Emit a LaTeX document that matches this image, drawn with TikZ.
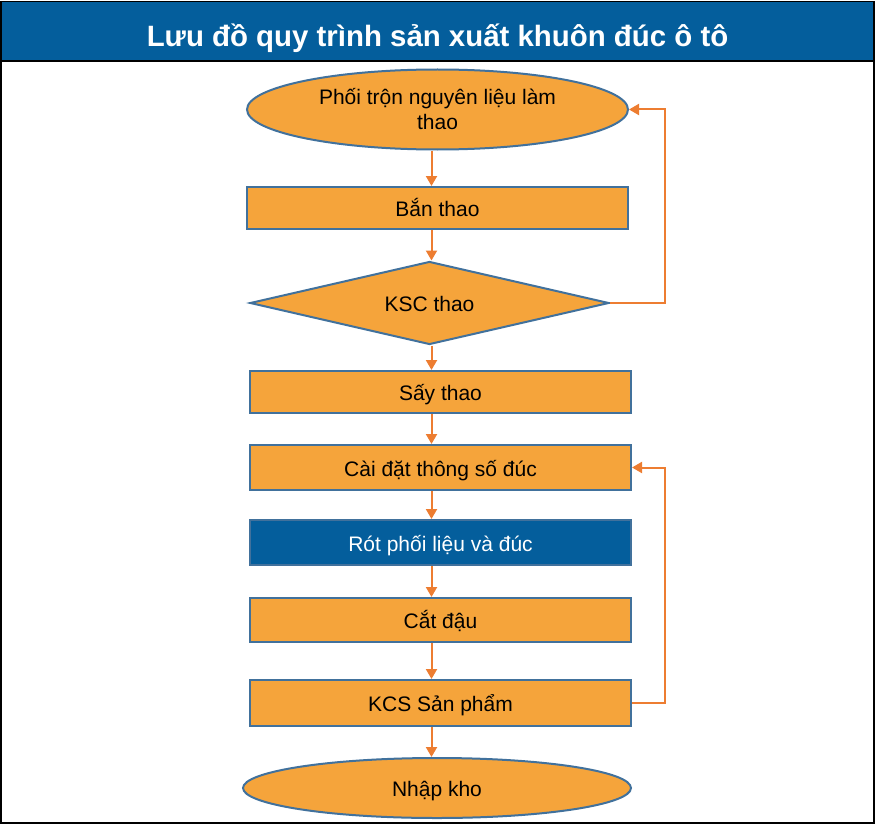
\documentclass[tikz,border=0pt]{standalone}
\usepackage{fontspec}
\setmainfont{Liberation Sans}
\usetikzlibrary{shapes.geometric,arrows.meta}
\definecolor{boxfill}{HTML}{F5A43B}
\definecolor{boxline}{HTML}{41719C}
\definecolor{titleblue}{HTML}{045E9C}
\definecolor{arrowc}{HTML}{ED7D31}
\tikzset{
  base/.style={draw=boxline, line width=2pt, fill=boxfill, inner sep=0pt,
    font=\fontsize{21}{25}\selectfont, text=black, align=center},
  oneline/.style={text height=21pt, text depth=4pt},
  procbox/.style={base, oneline, rectangle, minimum height=43pt},
  termnode/.style={base, ellipse},
  decnode/.style={base, oneline, diamond, shape aspect=4.3},
  bluebox/.style={procbox, fill=titleblue, text=white},
  arr/.style={draw=arrowc, line width=2pt, -{Triangle[length=10pt,width=11pt]}}
}
\begin{document}
\begin{tikzpicture}[x=1pt,y=-1pt]
\useasboundingbox (0,0) rectangle (875,824);
% frame and title band
\fill[titleblue] (1,2) rectangle (874,61);
\draw[black, line width=1.2pt] (1,1.5) rectangle (874,823);
\draw[black, line width=2pt] (1,61) -- (874,61);
\node[text=white, font=\fontsize{29.4}{32}\selectfont\bfseries] (title) at (437.5,38.5) {Lưu đồ quy trình sản xuất khuôn đúc ô tô};
% nodes
\node[termnode, minimum width=381pt, minimum height=80pt] (e1) at (437.5,109.5) {Phối trộn nguyên liệu làm\\thao};
\node[procbox, minimum width=381pt, minimum height=42pt] (b1) at (437.5,208) {Bắn thao};
\node[decnode, minimum width=359pt, minimum height=83pt] (d1) at (429.5,303) {KSC thao};
\node[procbox, minimum width=381pt, minimum height=42pt] (s1) at (440.5,392) {Sấy thao};
\node[procbox, minimum width=381pt, minimum height=45pt] (c1) at (440.5,467.5) {Cài đặt thông số đúc};
\node[bluebox, minimum width=381pt, minimum height=45pt] (r1) at (440.5,542.5) {Rót phối liệu và đúc};
\node[procbox, minimum width=381pt, minimum height=44pt] (t1) at (440.5,620) {Cắt đậu};
\node[procbox, minimum width=381pt, minimum height=46pt] (k1) at (440.5,703) {KCS Sản phẩm};
\node[termnode, oneline, minimum width=388pt, minimum height=60pt] (n1) at (437,788) {Nhập kho};
% spine coordinates
\coordinate (sp) at (431.5,0);
\coordinate (fb) at (665,0);
% main arrows
\draw[arr] (e1.south -| sp) -- (b1.north -| sp);
\draw[arr] (b1.south -| sp) -- (d1.north -| sp);
\draw[arr] (d1.south -| sp) -- (s1.north -| sp);
\draw[arr] (s1.south -| sp) -- (c1.north -| sp);
\draw[arr] (c1.south -| sp) -- (r1.north -| sp);
\draw[arr] (r1.south -| sp) -- (t1.north -| sp);
\draw[arr] (t1.south -| sp) -- (k1.north -| sp);
\draw[arr] (k1.south -| sp) -- (n1.north -| sp);
% feedback loops
\draw[arr] (d1.east) -- (d1.east -| fb) |- (e1.east);
\draw[arr] (k1.east) -- (k1.east -| fb) |- (c1.east);
\end{tikzpicture}
\end{document}
